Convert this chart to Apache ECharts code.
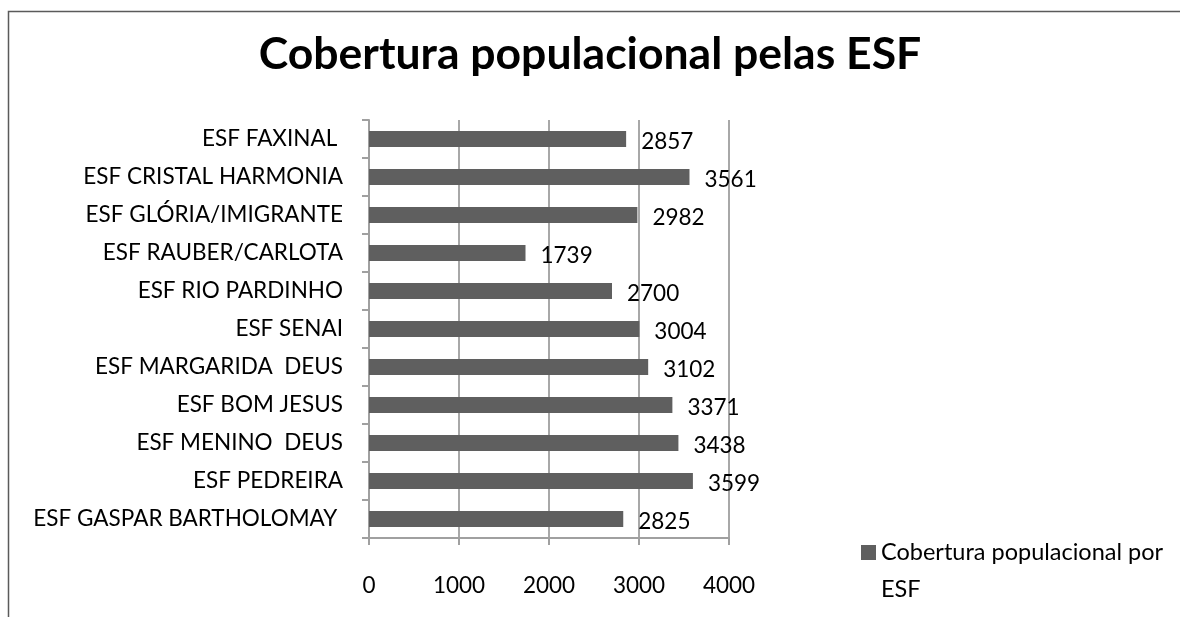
<!DOCTYPE html>
<html>
<head>
<meta charset="utf-8">
<script src="https://cdn.jsdelivr.net/npm/echarts@6/dist/echarts.min.js"></script>
<style>
html,body{margin:0;padding:0;background:#fff;}
#chart{width:1180px;height:617px;}
</style>
</head>
<body>
<div id="chart"></div>
<script>
// Data (bottom-to-top order as drawn on the category axis)
const categories = [
  "ESF GASPAR BARTHOLOMAY ",
  "ESF PEDREIRA",
  "ESF MENINO  DEUS",
  "ESF BOM JESUS",
  "ESF MARGARIDA  DEUS",
  "ESF SENAI",
  "ESF RIO PARDINHO",
  "ESF RAUBER/CARLOTA",
  "ESF GLÓRIA/IMIGRANTE",
  "ESF CRISTAL HARMONIA",
  "ESF FAXINAL "
];
const values = [2825, 3599, 3438, 3371, 3102, 3004, 2700, 1739, 2982, 3561, 2857];
const seriesName = "Cobertura populacional por ESF";
const titleText = "Cobertura populacional pelas ESF";
const xTicks = [0, 1000, 2000, 3000, 4000];

const FONT = "Lato";
const chart = echarts.init(document.getElementById('chart'), null, {renderer: 'canvas'});
chart.setOption({
  animation: false,
  backgroundColor: '#ffffff',
  graphic: [{
    type: 'rect',
    shape: {x: 8.5, y: 11.5, width: 1400, height: 800},
    style: {fill: 'none', stroke: '#5a5a5a', lineWidth: 1.5},
    silent: true
  }],
  title: {
    text: titleText,
    left: 'center',
    top: 27,
    textStyle: {fontFamily: FONT, fontWeight: 'bold', fontSize: 44.5, color: '#000'}
  },
  legend: {
    left: 856,
    top: 492,
    itemWidth: 15,
    itemHeight: 15,
    icon: 'rect',
    formatter: function () { return ' \nCobertura populacional por\nESF'; },
    textStyle: {fontFamily: FONT, fontSize: 23.5, color: '#000', lineHeight: 37},
    data: [seriesName]
  },
  grid: {left: 369, right: 451, top: 120, bottom: 79, containLabel: false},
  xAxis: {
    type: 'value',
    min: xTicks[0],
    max: xTicks[xTicks.length - 1],
    interval: 1000,
    axisLine: {show: true, lineStyle: {color: '#a0a0a0', width: 2}},
    axisTick: {show: true, length: 7, lineStyle: {color: '#a0a0a0', width: 2}},
    axisLabel: {fontFamily: FONT, fontSize: 22.5, color: '#000', margin: 36,
      formatter: function (v) { return String(v); }},
    splitLine: {show: true, lineStyle: {color: '#a8a8a8', width: 2}}
  },
  yAxis: {
    type: 'category',
    data: categories,
    axisLine: {show: true, lineStyle: {color: '#a0a0a0', width: 2}},
    axisTick: {show: true, length: 7, lineStyle: {color: '#a0a0a0', width: 2}},
    axisLabel: {fontFamily: FONT, fontSize: 22.5, color: '#000', margin: 26}
  },
  series: [{
    name: seriesName,
    type: 'bar',
    data: values,
    barWidth: 16,
    itemStyle: {color: '#5f5f5f'},
    label: {
      show: true,
      position: 'right',
      distance: 15,
      offset: [0, 3],
      fontFamily: FONT,
      fontSize: 22.5,
      color: '#000'
    }
  }]
});
</script>
</body>
</html>
